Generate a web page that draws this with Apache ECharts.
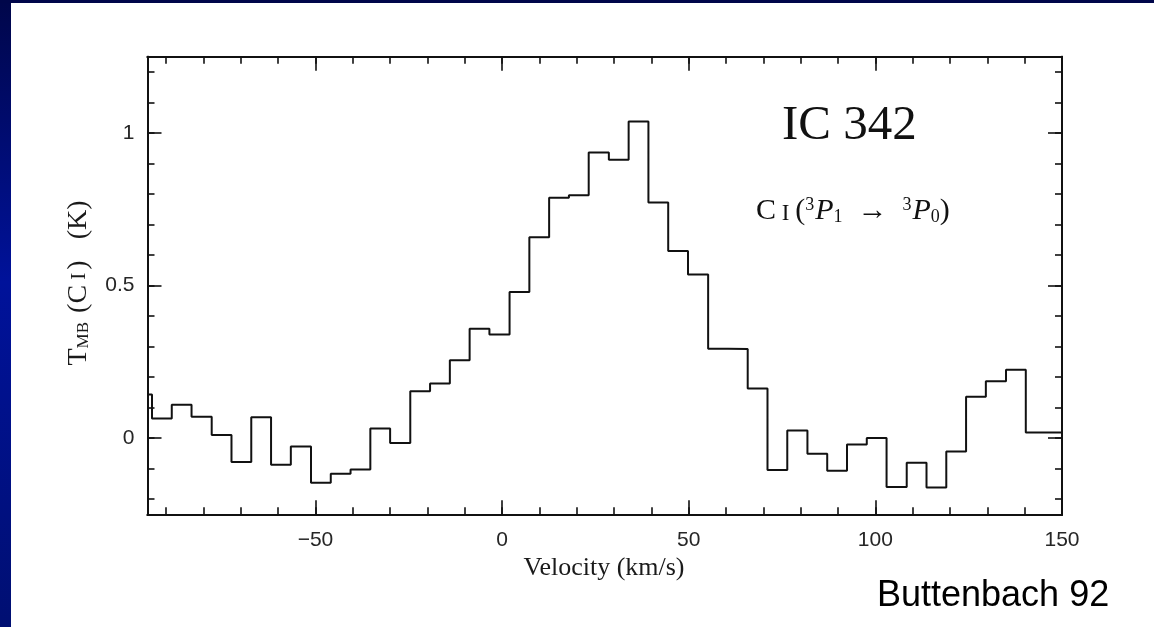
<!DOCTYPE html>
<html>
<head>
<meta charset="utf-8">
<script src="https://cdn.jsdelivr.net/npm/echarts@6/dist/echarts.min.js"></script>
<style>
  html, body { margin: 0; padding: 0; background: #ffffff; }
  #chart { width: 1154px; height: 627px; }
</style>
</head>
<body>
<div id="chart"></div>
<script>
// Channel left edges (km/s); the last entry is the right end of the last channel
const velocityEdges = [-95, -93.8, -88.5, -83.2, -77.8, -72.5, -67.2, -61.9, -56.6, -51.2, -45.9,
  -40.6, -35.3, -30.0, -24.6, -19.3, -14.0, -8.7, -3.4, 2.0, 7.3,
  12.6, 17.9, 23.2, 28.6, 33.9, 39.2, 44.5, 49.8, 55.2, 60.5,
  65.8, 71.1, 76.4, 81.8, 87.1, 92.4, 97.7, 103.0, 108.4, 113.7,
  119.0, 124.3, 129.6, 135.0, 140.3, 145.6, 150];
// Main-beam temperature of each channel (K)
const tmbValues = [0.143, 0.064, 0.109, 0.070, 0.010, -0.079, 0.068, -0.088, -0.028, -0.147,
  -0.117, -0.103, 0.031, -0.016, 0.153, 0.179, 0.255, 0.358, 0.339, 0.479,
  0.658, 0.788, 0.796, 0.936, 0.912, 1.038, 0.772, 0.613, 0.536, 0.293,
  0.292, 0.162, -0.105, 0.025, -0.052, -0.107, -0.021, 0.000, -0.161, -0.081,
  -0.162, -0.044, 0.135, 0.186, 0.224, 0.018, 0.018];

const xMajorTicks = [-50, 0, 50, 100, 150];
const xMinorTicks = [-90, -80, -70, -60, -50, -40, -30, -20, -10, 0, 10, 20, 30, 40, 50, 60, 70, 80, 90, 100, 110, 120, 130, 140];
const yMajorTicks = [0, 0.5, 1];
const yMinorTicks = [-0.2, -0.1, 0, 0.1, 0.2, 0.3, 0.4, 0.5, 0.6, 0.7, 0.8, 0.9, 1, 1.1, 1.2];

const X_MIN = -95, X_MAX = 150, Y_MIN = -0.25, Y_MAX = 1.25;

const stepData = velocityEdges.map((v, i) => [v, tmbValues[Math.min(i, tmbValues.length - 1)]]);

const ink = '#111111';
const labelFont = { fontFamily: 'Liberation Sans, Arial, sans-serif', fontSize: 21, color: '#262626' };

function xAxisDef(position, ticks, len, showLabel) {
  return {
    type: 'value', position, min: X_MIN, max: X_MAX,
    axisLine: { show: true, onZero: false, lineStyle: { color: ink, width: 2 } },
    axisTick: { show: true, inside: true, length: len, customValues: ticks, lineStyle: { color: ink, width: 1.6 } },
    axisLabel: showLabel ? Object.assign({
      show: true, margin: 15, customValues: ticks,
      formatter: v => (v < 0 ? '\u2212' + Math.abs(v) : String(v))
    }, labelFont) : { show: false },
    splitLine: { show: false }
  };
}
function yAxisDef(position, ticks, len, showLabel) {
  return {
    type: 'value', position, min: Y_MIN, max: Y_MAX,
    axisLine: { show: true, onZero: false, lineStyle: { color: ink, width: 2 } },
    axisTick: { show: true, inside: true, length: len, customValues: ticks, lineStyle: { color: ink, width: 1.6 } },
    axisLabel: showLabel ? Object.assign({
      show: true, margin: 13, customValues: ticks,
      formatter: v => String(v)
    }, labelFont) : { show: false },
    splitLine: { show: false }
  };
}

const serif = 'Liberation Serif, Times New Roman, serif';

const chart = echarts.init(document.getElementById('chart'), null, { renderer: 'canvas' });
chart.setOption({
  animation: false,
  backgroundColor: '#ffffff',
  grid: { left: 147.5, right: 92, top: 56.75, bottom: 112.75, containLabel: false },
  xAxis: [
    xAxisDef('bottom', xMajorTicks, 14, true),
    xAxisDef('bottom', xMinorTicks, 7, false),
    xAxisDef('top', xMajorTicks, 14, false),
    xAxisDef('top', xMinorTicks, 7, false)
  ],
  yAxis: [
    yAxisDef('left', yMajorTicks, 14, true),
    yAxisDef('left', yMinorTicks, 7, false),
    yAxisDef('right', yMajorTicks, 14, false),
    yAxisDef('right', yMinorTicks, 7, false)
  ],
  series: [{
    type: 'line', step: 'end', xAxisIndex: 0, yAxisIndex: 0,
    data: stepData, symbol: 'none', clip: true,
    lineStyle: { color: ink, width: 2 }
  }],
  graphic: [
    {
      type: 'rect', left: 0, top: 0, silent: true, z: 100,
      shape: { x: 0, y: 0, width: 11, height: 627 },
      style: { fill: new echarts.graphic.LinearGradient(0, 0, 0, 1, [
        { offset: 0, color: '#00064a' }, { offset: 0.45, color: '#00129a' }, { offset: 1, color: '#000f72' }
      ]) }
    },
    {
      type: 'rect', left: 0, top: 0, silent: true, z: 100,
      shape: { x: 0, y: 0, width: 1154, height: 3 },
      style: { fill: '#00064a' }
    },
    {
      type: 'text', x: 76, y: 283, rotation: Math.PI / 2, silent: true,
      style: {
        text: '{n|T}{s|MB}{n| (C}{sm| I}{n|)   (K)}',
        align: 'center', verticalAlign: 'middle', fill: '#1a1a1a',
        rich: {
          n: { fontFamily: serif, fontSize: 28, lineHeight: 33, verticalAlign: 'bottom', fill: '#1a1a1a' },
          s: { fontFamily: serif, fontSize: 17, lineHeight: 33, verticalAlign: 'bottom', padding: [0, 2, 0, 0], fill: '#1a1a1a' },
          sm: { fontFamily: serif, fontSize: 21, lineHeight: 33, verticalAlign: 'bottom', padding: [0, 3, 3, 0], fill: '#1a1a1a' }
        }
      }
    },
    {
      type: 'text', x: 604, y: 568, silent: true,
      style: {
        text: 'Velocity (km/s)', align: 'center', verticalAlign: 'middle',
        font: '26px "Liberation Serif", "Times New Roman", serif', fill: '#1a1a1a'
      }
    },
    {
      type: 'text', x: 782, y: 126, silent: true,
      style: {
        text: 'IC 342', align: 'left', verticalAlign: 'middle',
        font: '49px "Liberation Serif", "Times New Roman", serif', fill: '#111111'
      }
    },
    {
      type: 'text', x: 756, y: 211, silent: true,
      style: {
        text: '{n|C}{sm| I }{n|(}{sup|3}{i|P}{sub|1}{n|  \u2192  }{sup|3}{i|P}{sub|0}{n|)}',
        align: 'left', verticalAlign: 'middle',
        rich: {
          n: { fontFamily: serif, fontSize: 30, lineHeight: 36, verticalAlign: 'middle', fill: '#111' },
          sm: { fontFamily: serif, fontSize: 23, lineHeight: 36, verticalAlign: 'middle', padding: [5, 0, 0, 0], fill: '#111' },
          i: { fontFamily: serif, fontStyle: 'italic', fontSize: 30, lineHeight: 36, verticalAlign: 'middle', fill: '#111' },
          sup: { fontFamily: serif, fontSize: 18, lineHeight: 36, verticalAlign: 'top', padding: [3, 1, 0, 0], fill: '#111' },
          sub: { fontFamily: serif, fontSize: 18, lineHeight: 36, verticalAlign: 'bottom', padding: [0, 0, 3, 0], fill: '#111' }
        }
      }
    },
    {
      type: 'text', x: 877, y: 596, silent: true,
      style: {
        text: 'Buttenbach 92', align: 'left', verticalAlign: 'middle',
        font: '36px "Liberation Sans", Arial, sans-serif', fill: '#000000'
      }
    }
  ]
});
</script>
</body>
</html>
